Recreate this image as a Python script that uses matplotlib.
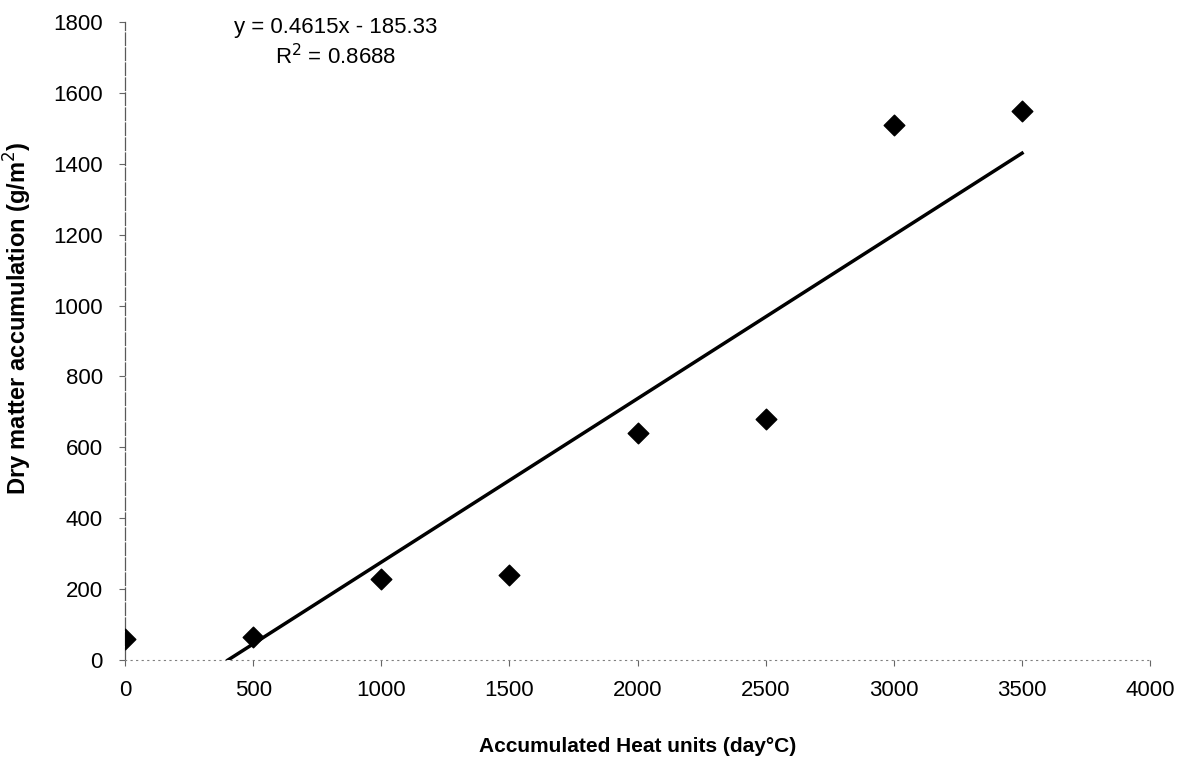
import numpy as np
import matplotlib
matplotlib.use("Agg")
from matplotlib import pyplot as plt

heat_units = [0, 500, 1000, 1500, 2000, 2500, 3000, 3500]
dry_matter = [60, 65, 230, 240, 640, 680, 1510, 1550]

slope = 0.4615
intercept = -185.33
r_squared = 0.8688

plt.rcParams['font.family'] = ['Liberation Sans', 'DejaVu Sans']

fig = plt.figure(figsize=(11.87, 7.72), dpi=100)
ax = fig.add_axes([0.1053, 0.145, 0.8637, 0.8265])

ax.scatter(heat_units, dry_matter, marker='D', s=110, color='black', zorder=3)

x_start = -intercept / slope
x_line = np.array([x_start, max(heat_units)])
ax.plot(x_line, slope * x_line + intercept, color='black', lw=2.5, zorder=2)

ax.set_xlim(0, 4000)
ax.set_ylim(0, 1800)
ax.set_xticks(np.arange(0, 4001, 500))
ax.set_yticks(np.arange(0, 1801, 200))
ax.tick_params(labelsize=16, length=4, width=0.8, color='0.4', pad=10)
ax.tick_params(axis='y', pad=12)

for side in ['top', 'right']:
    ax.spines[side].set_visible(False)
ax.spines['left'].set_color('0.35')
ax.spines['left'].set_linewidth(0.9)
ax.spines['left'].set_linestyle((0, (10, 2)))
ax.spines['bottom'].set_color('0.5')
ax.spines['bottom'].set_linewidth(0.8)
ax.spines['bottom'].set_linestyle((0, (1, 4)))

ax.set_xlabel('Accumulated Heat units (day°C)', fontsize=15, fontweight='bold', labelpad=26)
ax.set_ylabel('Dry matter accumulation (g/m$^2$)', fontsize=17, fontweight='bold')
ax.yaxis.set_label_coords(-0.089, 0.536)

eq_text = 'y = {}x - {}\nR$^2$ = {}'.format(slope, -intercept, r_squared)
fig.text(0.283, 0.978, eq_text, ha='center', va='top', fontsize=16, linespacing=1.3)

fig.savefig('out.png', dpi=100)
